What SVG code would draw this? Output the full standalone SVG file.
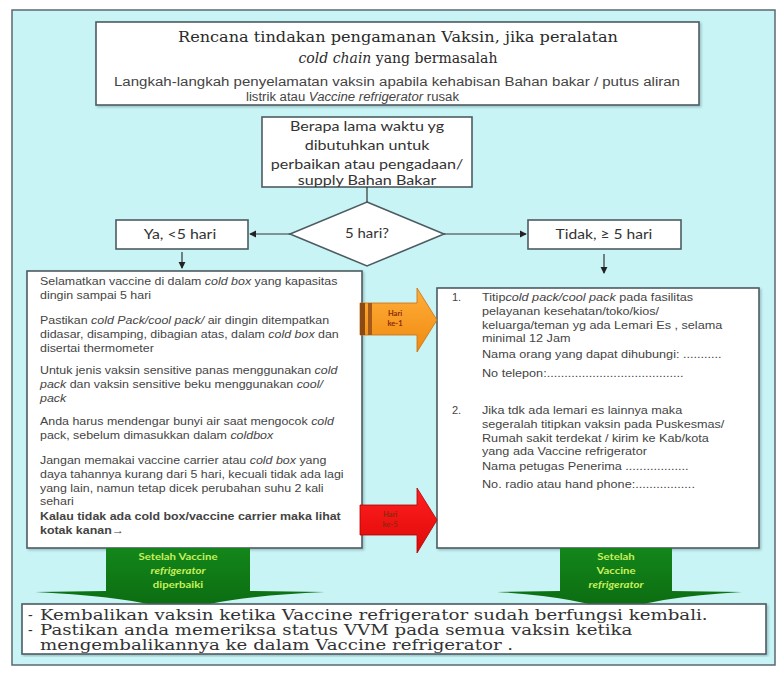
<svg xmlns="http://www.w3.org/2000/svg" width="781" height="675" viewBox="0 0 781 675">
  <style>
    .box { fill: #ffffff; stroke: #4d5c62; stroke-width: 1.6; }
    .title { font-family: "DejaVu Serif", "Liberation Serif", serif; font-size: 14px; fill: #2a2a2a; }
    .sub { font-family: "Liberation Sans", Arial, sans-serif; font-size: 12px; fill: #444; }
    .cal { font-family: Lato, "Liberation Sans", sans-serif; font-size: 13px; fill: #333; }
    .body { font-family: "Liberation Sans", Arial, sans-serif; font-size: 11px; fill: #444; }
    .rbody { font-family: "Liberation Sans", Arial, sans-serif; font-size: 11px; fill: #444; }
    .foot { font-family: "DejaVu Serif", "Liberation Serif", serif; font-size: 14px; fill: #333; }
    .grn { font-family: Lato, "Liberation Sans", sans-serif; font-size: 9.5px; font-weight: bold; fill: #c8f05c; }
    .lbl { font-family: Lato, "Liberation Sans", sans-serif; font-size: 7.5px; font-weight: bold; fill: #8a2a0a; }
    .conn { stroke: #333; stroke-width: 1.2; fill: none; }
    .it { font-style: italic; }
  </style>
  <defs>
    <marker id="ah" viewBox="0 0 8 8" refX="7" refY="4" markerWidth="6" markerHeight="6" orient="auto">
      <path d="M0,0 L8,4 L0,8 Z" fill="#222"/>
    </marker>
    <filter id="sh" x="-5%" y="-5%" width="110%" height="110%">
      <feDropShadow dx="1.5" dy="1.5" stdDeviation="1.2" flood-color="#6a8a90" flood-opacity="0.5"/>
    </filter>
    <linearGradient id="gOrange" x1="0" y1="0" x2="0" y2="1">
      <stop offset="0" stop-color="#ffae3a"/>
      <stop offset="1" stop-color="#f08a10"/>
    </linearGradient>
    <linearGradient id="gRed" x1="0" y1="0" x2="0" y2="1">
      <stop offset="0" stop-color="#ff2020"/>
      <stop offset="1" stop-color="#e00808"/>
    </linearGradient>
    <linearGradient id="gGreen" x1="0" y1="0" x2="0" y2="1">
      <stop offset="0" stop-color="#13861a"/>
      <stop offset="1" stop-color="#0b6a10"/>
    </linearGradient>
  </defs>

  <!-- page background and outer frame -->
  <rect x="0" y="0" width="781" height="675" fill="#ffffff"/>
  <rect x="12" y="10" width="763" height="655" fill="#c9f4f6" stroke="#5a6a70" stroke-width="1.5"/>

  <!-- header -->
  <g id="title">
    <rect class="box" x="96" y="22" width="603" height="83" filter="url(#sh)"/>
    <text class="title" x="178" y="42" textLength="440" lengthAdjust="spacingAndGlyphs">Rencana tindakan pengamanan Vaksin, jika peralatan</text>
    <text class="title" x="398" y="63" text-anchor="middle"><tspan class="it">cold chain</tspan> yang bermasalah</text>
    <text class="sub" x="114" y="86" textLength="566" lengthAdjust="spacingAndGlyphs">Langkah-langkah penyelamatan vaksin apabila kehabisan Bahan bakar / putus aliran</text>
    <text class="sub" x="246" y="101" textLength="213" lengthAdjust="spacingAndGlyphs">listrik atau <tspan class="it">Vaccine refrigerator</tspan>  rusak</text>
  </g>

  <g id="question">
    <rect class="box" x="262" y="117" width="210" height="70"/>
    <g transform="translate(367 0) scale(1.24 1) translate(-367 0)">
      <text class="cal" x="367" y="131" text-anchor="middle">Berapa lama waktu yg</text>
      <text class="cal" x="367" y="150" text-anchor="middle">dibutuhkan untuk</text>
      <text class="cal" x="367" y="169" text-anchor="middle">perbaikan atau pengadaan/</text>
      <text class="cal" x="367" y="185" text-anchor="middle">supply Bahan Bakar</text>
    </g>
  </g>

  <g id="decision">
    <polygon class="box" points="367,202 444,234 367,266 290,234"/>
    <text class="cal" x="367" y="238" text-anchor="middle" transform="translate(367 0) scale(1.15 1) translate(-367 0)">5 hari?</text>
  </g>

  <g id="yes">
    <rect class="box" x="116" y="220" width="132" height="29"/>
    <text class="cal" x="180" y="239" text-anchor="middle" transform="translate(180 0) scale(1.22 1) translate(-180 0)">Ya, &lt;5 hari</text>
  </g>

  <g id="no">
    <rect class="box" x="528" y="220" width="153" height="29"/>
    <text class="cal" x="604" y="239" text-anchor="middle" transform="translate(604 0) scale(1.2 1) translate(-604 0)">Tidak, ≥ 5 hari</text>
  </g>

  <!-- flow lines between the boxes -->
  <g id="connectors">
    <line class="conn" x1="367" y1="187" x2="367" y2="202"/>
    <line class="conn" x1="290" y1="234" x2="250" y2="234" marker-end="url(#ah)"/>
    <line class="conn" x1="444" y1="234" x2="526" y2="234" marker-end="url(#ah)"/>
    <line class="conn" x1="182" y1="252" x2="182" y2="268" marker-end="url(#ah)"/>
    <line class="conn" x1="604" y1="254" x2="604" y2="273" marker-end="url(#ah)"/>
  </g>

  <!-- left steps: cold box -->
  <g id="left-steps">
    <rect class="box" x="27" y="271" width="335" height="277" filter="url(#sh)"/>
    <g transform="translate(40 0) scale(1.13 1) translate(-40 0)">
      <text class="body" x="40" y="285">Selamatkan vaccine di dalam <tspan class="it">cold box</tspan> yang kapasitas</text>
      <text class="body" x="40" y="299">dingin sampai 5 hari</text>
      <text class="body" x="40" y="324">Pastikan <tspan class="it">cold Pack/cool pack/</tspan> air dingin ditempatkan</text>
      <text class="body" x="40" y="338">didasar, disamping, dibagian atas, dalam <tspan class="it">cold box</tspan> dan</text>
      <text class="body" x="40" y="352">disertai thermometer</text>
      <text class="body" x="40" y="374">Untuk jenis vaksin sensitive panas menggunakan <tspan class="it">cold</tspan></text>
      <text class="body" x="40" y="388"><tspan class="it">pack</tspan> dan vaksin sensitive beku menggunakan <tspan class="it">cool/</tspan></text>
      <text class="body" x="40" y="402"><tspan class="it">pack</tspan></text>
      <text class="body" x="40" y="425">Anda harus mendengar bunyi air saat mengocok <tspan class="it">cold</tspan></text>
      <text class="body" x="40" y="439">pack,  sebelum dimasukkan dalam <tspan class="it">coldbox</tspan></text>
      <text class="body" x="40" y="464">Jangan memakai vaccine carrier atau <tspan class="it">cold box</tspan> yang</text>
      <text class="body" x="40" y="478">daya tahannya kurang dari 5 hari, kecuali tidak ada lagi</text>
      <text class="body" x="40" y="492">yang lain, namun tetap dicek perubahan suhu 2 kali</text>
      <text class="body" x="40" y="505">sehari</text>
      <text class="body" x="40" y="520" font-weight="bold">Kalau tidak ada cold box/vaccine carrier maka lihat</text>
      <text class="body" x="40" y="534" font-weight="bold">kotak kanan→</text>
    </g>
  </g>

  <!-- right steps: store elsewhere -->
  <g id="right-steps">
    <rect class="box" x="437" y="288" width="322" height="260" filter="url(#sh)"/>
    <text class="rbody" x="452" y="301">1.</text>
    <text class="rbody" x="452" y="414">2.</text>
    <g transform="translate(482 0) scale(1.15 1) translate(-482 0)">
      <text class="rbody" x="482" y="301">Titip<tspan class="it">cold pack/cool pack</tspan> pada fasilitas</text>
      <text class="rbody" x="482" y="315">pelayanan kesehatan/toko/kios/</text>
      <text class="rbody" x="482" y="329">keluarga/teman yg ada Lemari Es , selama</text>
      <text class="rbody" x="482" y="342">minimal 12 Jam</text>
      <text class="rbody" x="482" y="358">Nama orang yang dapat dihubungi: ...........</text>
      <text class="rbody" x="482" y="377">No telepon:.......................................</text>
      <text class="rbody" x="482" y="414">Jika tdk ada lemari es  lainnya maka</text>
      <text class="rbody" x="482" y="428">segeralah titipkan vaksin pada Puskesmas/</text>
      <text class="rbody" x="482" y="442">Rumah sakit terdekat / kirim ke Kab/kota</text>
      <text class="rbody" x="482" y="455">yang ada Vaccine refrigerator</text>
      <text class="rbody" x="482" y="470">Nama petugas Penerima ..................</text>
      <text class="rbody" x="482" y="488">No. radio atau hand phone:.................</text>
    </g>
  </g>

  <!-- block arrows between the two step boxes -->
  <g id="arrow-day1">
    <path d="M360,303 L417,303 L417,288 L437,320 L417,352 L417,335 L360,335 Z" fill="url(#gOrange)" stroke="#c87010" stroke-width="0.8"/>
    <rect x="360" y="303" width="5" height="32" fill="#8a4a12"/>
    <rect x="368" y="303" width="4" height="32" fill="#a65a18"/>
    <text class="lbl" x="395" y="316" text-anchor="middle">Hari</text>
    <text class="lbl" x="395" y="326" text-anchor="middle">ke-1</text>
  </g>

  <g id="arrow-red">
    <path d="M360,505 L417,505 L417,488 L437,520 L417,553 L417,535 L360,535 Z" fill="url(#gRed)" stroke="#b00000" stroke-width="0.8"/>
    <text class="lbl" x="390" y="517" text-anchor="middle">Hari</text>
    <text class="lbl" x="390" y="527" text-anchor="middle">ke-5</text>
  </g>

  <!-- green down arrows to the closing box -->
  <g id="arrow-repaired">
    <path d="M106,548 L250,548 L250,591 L325,592 Q215,597 178,613 Q140,597 35,592 L106,591 Z" fill="url(#gGreen)"/>
    <g transform="translate(178 0) scale(1.2 1) translate(-178 0)">
      <text class="grn" x="178" y="560" text-anchor="middle">Setelah Vaccine</text>
      <text class="grn" x="178" y="574" text-anchor="middle"><tspan class="it">refrigerator</tspan></text>
      <text class="grn" x="178" y="588" text-anchor="middle">diperbaiki</text>
    </g>
  </g>

  <g id="arrow-refrigerator">
    <path d="M560,548 L672,548 L672,591 L742,592 Q652,597 616,613 Q580,597 497,592 L560,591 Z" fill="url(#gGreen)"/>
    <g transform="translate(616 0) scale(1.2 1) translate(-616 0)">
      <text class="grn" x="616" y="560" text-anchor="middle">Setelah</text>
      <text class="grn" x="616" y="574" text-anchor="middle">Vaccine</text>
      <text class="grn" x="616" y="588" text-anchor="middle"><tspan class="it">refrigerator</tspan></text>
    </g>
  </g>

  <g id="closing">
    <rect class="box" x="22" y="604" width="744" height="50" filter="url(#sh)"/>
    <text class="foot" x="28" y="620" fill="#999">-</text>
    <text class="foot" x="28" y="635" fill="#999">-</text>
    <g transform="translate(40 0) scale(1.3 1) translate(-40 0)">
      <text class="foot" x="40" y="620">Kembalikan vaksin ketika Vaccine refrigerator  sudah berfungsi kembali.</text>
      <text class="foot" x="40" y="635">Pastikan anda memeriksa status VVM pada semua vaksin ketika</text>
      <text class="foot" x="40" y="650">mengembalikannya ke  dalam Vaccine refrigerator .</text>
    </g>
  </g>
</svg>
